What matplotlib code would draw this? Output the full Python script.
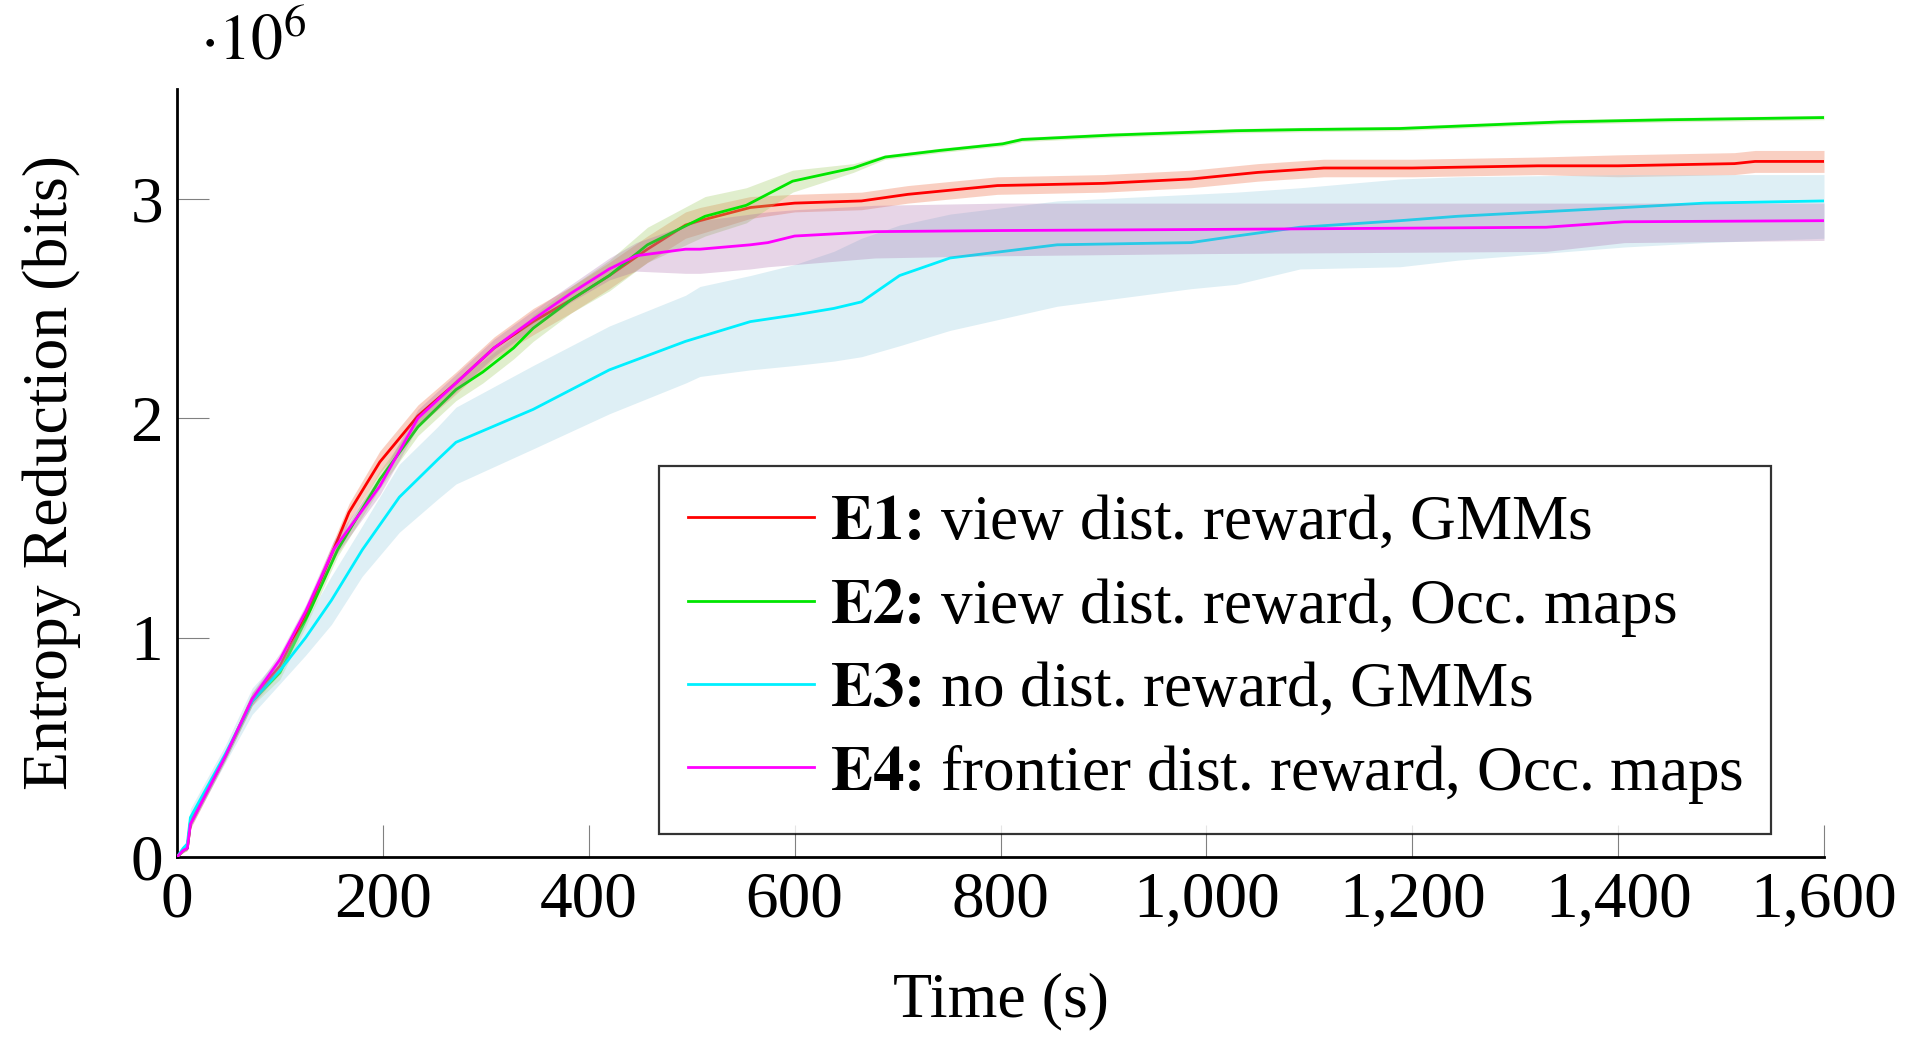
import numpy as np
import matplotlib
matplotlib.use("Agg")
from matplotlib import pyplot as plt
from matplotlib.ticker import FuncFormatter

plt.rcParams['font.family'] = ['Liberation Serif', 'DejaVu Serif']
plt.rcParams['mathtext.fontset'] = 'stix'

# E1: view dist. reward, GMMs  (values in 1e6 bits)
t_e1 = [0, 6, 10, 13, 47, 73, 100, 125, 152, 167, 197, 234, 271, 308, 346, 383, 420, 457, 494, 508, 557, 600, 665, 710, 797, 900, 985, 1050, 1114, 1200, 1322, 1400, 1513, 1533, 1600]
y_e1 = [0, 0.03, 0.04, 0.15, 0.46, 0.72, 0.87, 1.10, 1.40, 1.57, 1.80, 2.01, 2.16, 2.32, 2.44, 2.54, 2.65, 2.77, 2.88, 2.90, 2.96, 2.98, 2.99, 3.02, 3.06, 3.07, 3.09, 3.12, 3.14, 3.14, 3.15, 3.15, 3.16, 3.17, 3.17]
d_e1 = [0, 0.01, 0.01, 0.02, 0.02, 0.03, 0.03, 0.03, 0.04, 0.04, 0.05, 0.05, 0.05, 0.05, 0.06, 0.06, 0.06, 0.06, 0.06, 0.06, 0.05, 0.04, 0.04, 0.04, 0.04, 0.04, 0.04, 0.04, 0.04, 0.04, 0.04, 0.05, 0.05, 0.05, 0.05]

# E2: view dist. reward, Occ. maps
t_e2 = [0, 6, 10, 13, 47, 73, 100, 125, 156, 197, 234, 271, 297, 327, 346, 383, 420, 457, 513, 553, 598, 657, 688, 741, 802, 821, 908, 1029, 1091, 1188, 1344, 1450, 1600]
y_e2 = [0, 0.03, 0.04, 0.16, 0.46, 0.71, 0.84, 1.08, 1.40, 1.72, 1.96, 2.13, 2.21, 2.32, 2.41, 2.54, 2.65, 2.79, 2.92, 2.97, 3.08, 3.14, 3.19, 3.22, 3.25, 3.27, 3.29, 3.31, 3.315, 3.32, 3.35, 3.36, 3.37]
d_e2 = [0, 0.01, 0.01, 0.02, 0.02, 0.02, 0.03, 0.03, 0.03, 0.04, 0.04, 0.05, 0.05, 0.05, 0.06, 0.06, 0.07, 0.08, 0.09, 0.08, 0.05, 0.02, 0.01, 0.01, 0.01, 0.01, 0.01, 0.01, 0.01, 0.01, 0.01, 0.01, 0.01]

# E3: no dist. reward, GMMs
t_e3 = [0, 6, 10, 13, 47, 73, 100, 125, 150, 180, 216, 253, 271, 346, 420, 494, 508, 557, 600, 638, 665, 702, 751, 855, 985, 1029, 1091, 1188, 1244, 1406, 1484, 1600]
y_e3 = [0, 0.04, 0.06, 0.18, 0.47, 0.71, 0.85, 1.00, 1.17, 1.40, 1.64, 1.81, 1.89, 2.04, 2.22, 2.35, 2.37, 2.44, 2.47, 2.50, 2.53, 2.65, 2.73, 2.79, 2.80, 2.83, 2.87, 2.90, 2.92, 2.96, 2.98, 2.99]
lo_e3 = [0, 0.03, 0.05, 0.14, 0.43, 0.65, 0.79, 0.92, 1.06, 1.28, 1.48, 1.63, 1.70, 1.86, 2.02, 2.16, 2.19, 2.22, 2.24, 2.26, 2.28, 2.33, 2.40, 2.51, 2.59, 2.61, 2.68, 2.69, 2.72, 2.78, 2.80, 2.82]
hi_e3 = [0, 0.05, 0.07, 0.22, 0.51, 0.77, 0.91, 1.08, 1.28, 1.51, 1.79, 1.96, 2.05, 2.24, 2.42, 2.56, 2.60, 2.65, 2.70, 2.76, 2.82, 2.88, 2.93, 2.99, 3.02, 3.03, 3.05, 3.09, 3.10, 3.11, 3.11, 3.11]

# E4: frontier dist. reward, Occ. maps
t_e4 = [0, 6, 10, 13, 47, 73, 100, 125, 152, 197, 234, 271, 308, 346, 383, 420, 446, 494, 508, 557, 574, 600, 678, 800, 1000, 1330, 1406, 1600]
y_e4 = [0, 0.03, 0.04, 0.15, 0.46, 0.72, 0.90, 1.12, 1.40, 1.69, 2.00, 2.16, 2.32, 2.45, 2.57, 2.68, 2.74, 2.77, 2.77, 2.79, 2.80, 2.83, 2.85, 2.855, 2.86, 2.87, 2.895, 2.90]
lo_e4 = [0, 0.02, 0.03, 0.13, 0.44, 0.69, 0.87, 1.09, 1.36, 1.65, 1.96, 2.12, 2.28, 2.41, 2.53, 2.63, 2.67, 2.66, 2.66, 2.68, 2.69, 2.70, 2.73, 2.74, 2.75, 2.76, 2.80, 2.81]
hi_e4 = [0, 0.04, 0.05, 0.17, 0.48, 0.75, 0.93, 1.15, 1.44, 1.73, 2.04, 2.20, 2.36, 2.49, 2.61, 2.73, 2.80, 2.88, 2.90, 2.93, 2.94, 2.95, 2.97, 2.98, 2.98, 2.98, 2.98, 2.98]

bold = r'$\mathbf{%s}\hspace{-0.2}\mathbf{:}\hspace{-0.2}$ '
labels = [bold % 'E1' + 'view dist. reward, GMMs',
          bold % 'E2' + 'view dist. reward, Occ. maps',
          bold % 'E3' + 'no dist. reward, GMMs',
          bold % 'E4' + 'frontier dist. reward, Occ. maps']
line_colors = ['#ff0000', '#00e600', '#00f0ff', '#ff00ff']
band_colors = ['#f07850', '#a8d070', '#add8e6', '#a05aa0']
band_alpha = [0.35, 0.35, 0.4, 0.25]

fig = plt.figure(figsize=(19.2, 10.51), dpi=100)
ax = fig.add_axes([0.0922, 0.1846, 0.8578, 0.7307])

series = [
    (t_e1, y_e1, np.array(y_e1) - np.array(d_e1), np.array(y_e1) + np.array(d_e1)),
    (t_e2, y_e2, np.array(y_e2) - np.array(d_e2), np.array(y_e2) + np.array(d_e2)),
    (t_e3, y_e3, lo_e3, hi_e3),
    (t_e4, y_e4, lo_e4, hi_e4),
]
for i, (t, y, lo, hi) in enumerate(series):
    ax.fill_between(t, lo, hi, color=band_colors[i], alpha=band_alpha[i], lw=0, zorder=2 + 2 * i)
    ax.plot(t, y, color=line_colors[i], lw=2.0, label=labels[i], zorder=3 + 2 * i)

ax.set_xlim(0, 1600)
ax.set_ylim(0, 3.5)
ax.set_xticks(np.arange(0, 1601, 200))
ax.set_yticks([0, 1, 2, 3])
ax.xaxis.set_major_formatter(FuncFormatter(lambda v, p: '{:,}'.format(int(v))))
ax.yaxis.set_major_formatter(FuncFormatter(lambda v, p: '%d' % v))
ax.tick_params(direction='in', length=23, width=0.8, color='#808080', labelsize=47, pad=10)
ax.tick_params(axis='x', pad=10)

for s in ['top', 'right']:
    ax.spines[s].set_visible(False)
for s in ['left', 'bottom']:
    ax.spines[s].set_linewidth(2.0)

ax.set_xlabel('Time (s)', fontsize=46, labelpad=30)
ax.set_ylabel('Entropy Reduction (bits)', fontsize=46, labelpad=36)
ax.text(0.014, 1.02, r'$\cdot 10^{6}$', transform=ax.transAxes, fontsize=46, ha='left', va='bottom')

leg = ax.legend(loc='lower right', bbox_to_anchor=(0.968, 0.030), fontsize=45.5, frameon=True,
                fancybox=False, edgecolor='black', handlelength=2.0, handletextpad=0.25,
                labelspacing=0.36, borderpad=0.45, borderaxespad=0)
leg.get_frame().set_linewidth(1.6)
leg.set_zorder(20)
for h in leg.get_lines():
    h.set_linewidth(2.0)

fig.savefig('out.png', dpi=100)
